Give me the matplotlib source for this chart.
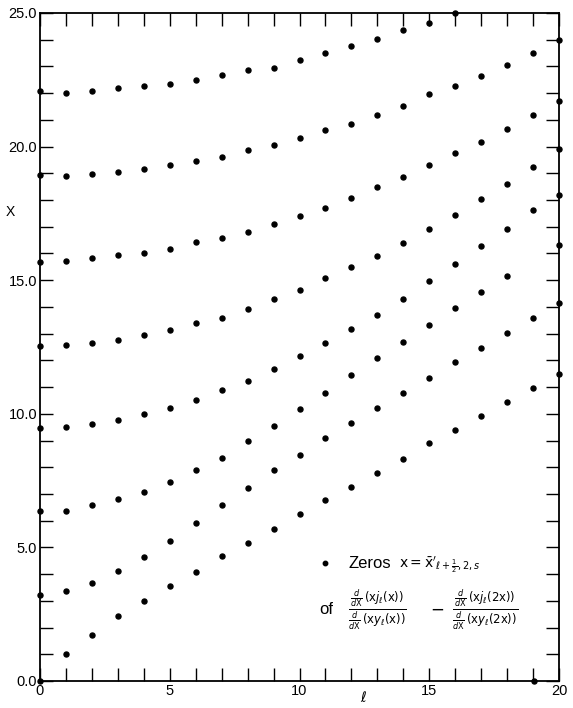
import numpy as np
import matplotlib
matplotlib.use("Agg")
import matplotlib.pyplot as plt

plt.rcParams['font.family'] = ['Liberation Sans Narrow', 'Liberation Sans', 'DejaVu Sans']
plt.rcParams['mathtext.fontset'] = 'dejavusans'

nan = np.nan
ell = list(range(21))

# zeros x for s = 1..8 (rank within each column of the chart)
s1 = [0.00, 1.00, 1.72, 2.42, 2.99, 3.56, 4.07, 4.67, 5.17, 5.68, 6.24, 6.79, 7.26, 7.78, 8.29, 8.91, 9.41, 9.92, 10.46, 10.97, 11.50]
s2 = [3.21, 3.36, 3.67, 4.13, 4.64, 5.24, 5.93, 6.60, 7.22, 7.89, 8.47, 9.11, 9.67, 10.21, 10.76, 11.34, 11.93, 12.48, 13.02, 13.60, 14.16]
s3 = [6.35, 6.36, 6.59, 6.81, 7.09, 7.46, 7.91, 8.36, 8.97, 9.54, 10.17, 10.79, 11.45, 12.09, 12.68, 13.34, 13.95, 14.54, 15.16, nan, 16.33]
s4 = [9.46, 9.49, 9.61, 9.77, 10.01, 10.23, 10.53, 10.88, 11.24, 11.67, 12.16, 12.65, 13.17, 13.68, 14.29, 14.97, 15.61, 16.27, 16.93, 17.62, 18.19]
s5 = [12.55, 12.59, 12.66, 12.78, 12.95, 13.12, 13.40, 13.60, 13.92, 14.29, 14.65, 15.10, 15.49, 15.89, 16.41, 16.90, 17.45, 18.03, 18.59, 19.24, 19.91]
s6 = [15.68, 15.72, 15.82, 15.93, 16.02, 16.16, 16.42, 16.59, 16.82, 17.09, 17.40, 17.72, 18.08, 18.49, 18.85, 19.31, 19.75, 20.19, 20.66, 21.20, 21.71]
s7 = [18.95, 18.91, 18.97, 19.04, 19.16, 19.30, 19.46, 19.62, 19.86, 20.07, 20.34, 20.62, 20.86, 21.20, 21.53, 21.95, 22.28, 22.64, 23.05, 23.52, 24.00]
s8 = [22.08, 22.02, 22.08, 22.18, 22.26, 22.36, 22.51, 22.69, 22.88, 22.96, 23.23, 23.52, 23.78, 24.04, 24.35, 24.64, 25.00, nan, nan, nan, nan]
series = [s1, s2, s3, s4, s5, s6, s7, s8]

# stray mark on the axis near l = 19
stray_l = [19.05]
stray_x = [0.0]

xticks = [0, 5, 10, 15, 20]
yticks = [0, 5, 10, 15, 20, 25]
ytick_labels = ["0.0", "5.0", "10.0", "15.0", "20.0", "25.0"]

W, H = 573, 708
fig = plt.figure(figsize=(W / 100, H / 100), dpi=100)
ax = fig.add_axes([40 / W, 1 - 681 / H, (559 - 40) / W, (681 - 13) / H])

for s in series:
    ax.plot(ell, s, linestyle='none', marker='o', markersize=3.6,
            color='black', clip_on=False, zorder=5)
ax.plot(stray_l, stray_x, linestyle='none', marker='o', markersize=3.6,
        color='black', clip_on=False, zorder=5)

ax.set_xlim(0, 20)
ax.set_ylim(0, 25)
ax.set_xticks(range(0, 21))
ax.set_xticklabels([str(v) if v in xticks else "" for v in range(0, 21)])
ax.set_yticks(range(0, 26))
ax.set_yticklabels([ytick_labels[yticks.index(v)] if v in yticks else "" for v in range(0, 26)])
ax.tick_params(direction='in', length=9.5, width=1.0, top=True, right=True,
               labelsize=10.5, pad=2, colors='black')
for sp in ax.spines.values():
    sp.set_linewidth(1.3)

fig.text(10 / W, 1 - 212 / H, "X", fontsize=10, ha='center', va='center')
fig.text(364 / W, 1 - 698 / H, r"$\ell$", fontsize=10, ha='center', va='center')

# legend-like annotation
ax.plot([10.98], [4.40], linestyle='none', marker='o', markersize=3.2, color='black')
ax.text(11.9, 4.40, "Zeros", fontsize=12, ha='left', va='center')
ax.text(13.85, 4.35, r"$\mathrm{x}=\bar{\mathrm{x}}'_{\ell+\frac{1}{2},2,s}$", fontsize=10, ha='left', va='center')
ax.text(10.75, 2.68, "of", fontsize=12, ha='left', va='center')
ax.text(13.0, 2.68, r"$\frac{\frac{d}{d\mathrm{X}}\,(\mathrm{x}j_\ell(\mathrm{x}))}{\frac{d}{d\mathrm{X}}\,(\mathrm{x}y_\ell(\mathrm{x}))}$",
        fontsize=12, ha='center', va='center')
ax.text(15.3, 2.68, r"$-$", fontsize=12, ha='center', va='center')
ax.text(17.15, 2.68, r"$\frac{\frac{d}{d\mathrm{X}}\,(\mathrm{x}j_\ell(2\mathrm{x}))}{\frac{d}{d\mathrm{X}}\,(\mathrm{x}y_\ell(2\mathrm{x}))}$",
        fontsize=12, ha='center', va='center')

fig.savefig("out.png", dpi=100)
